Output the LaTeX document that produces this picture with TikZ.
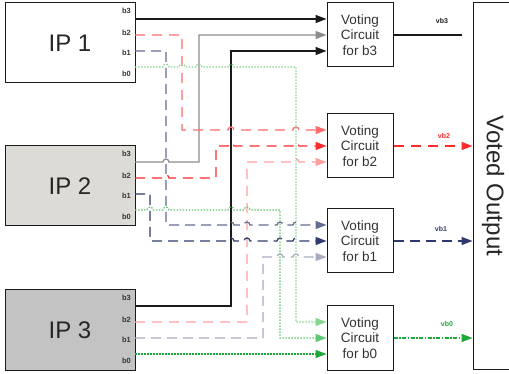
\documentclass[tikz,border=0pt]{standalone}
\usepackage{fontspec}
\setmainfont{Liberation Sans}
\usepackage{xcolor}
\usepackage{tikz}
\usetikzlibrary{arrows.meta, calc}
\definecolor{vcblack}{HTML}{1A1A1A}
\definecolor{vcgray}{HTML}{8C8C8C}
\definecolor{vcred}{HTML}{FF2A2A}
\definecolor{vcrose}{HTML}{FF6B6B}
\definecolor{vcpink}{HTML}{FF9E9E}
\definecolor{vcnavy}{HTML}{2E3A6E}
\definecolor{vcslate}{HTML}{646C90}
\definecolor{vclav}{HTML}{A8ABC0}
\definecolor{vcgreen}{HTML}{1FA83A}
\definecolor{vclime}{HTML}{60C870}
\definecolor{vcmint}{HTML}{86D690}
\definecolor{ipgrayA}{HTML}{DCDBD6}
\definecolor{ipgrayB}{HTML}{C4C3C3}
\tikzset{
  ipbox/.style  ={rectangle, draw=vcblack, line width=1pt, minimum width=130pt, minimum height=80pt,
                  inner sep=0pt, font=\fontsize{24}{28}\selectfont, text=black!85},
  vbox/.style   ={rectangle, draw=vcblack, line width=1pt, minimum width=66pt, minimum height=64pt,
                  inner sep=0pt, align=center, font=\fontsize{13.5}{15.7}\selectfont, text=black!80},
  pinlbl/.style ={anchor=east, inner sep=0pt, font=\fontsize{7.5}{8}\selectfont\bfseries, text=black!80},
  olbl/.style   ={inner sep=0pt, font=\fontsize{7}{8}\selectfont\bfseries},
  hop/.style    ={insert path={arc[start angle=180, end angle=0, radius=3pt]}},
  wire/.style   ={line width=1.2pt, -{Triangle[length=11pt,width=8pt]}},
  blk/.style    ={wire, draw=vcblack},
  gry/.style    ={wire, draw=vcgray},
  rdA/.style    ={wire, draw=vcrose, dash pattern=on 10pt off 7pt},
  rdB/.style    ={wire, draw=vcred, dash pattern=on 10pt off 7pt},
  rdC/.style    ={wire, draw=vcpink, dash pattern=on 10pt off 7pt},
  nvA/.style    ={wire, draw=vcslate, dash pattern=on 10pt off 6pt},
  nvB/.style    ={wire, draw=vcnavy, dash pattern=on 10pt off 6pt},
  nvC/.style    ={wire, draw=vclav, dash pattern=on 10pt off 6pt},
  gnA/.style    ={wire, draw=vcmint, dash pattern=on 1.5pt off 1.5pt},
  gnB/.style    ={wire, draw=vclime, dash pattern=on 1.5pt off 1.5pt},
  gnC/.style    ={wire, draw=vcgreen, dash pattern=on 1.5pt off 1.5pt},
}
\begin{document}
\begin{tikzpicture}[x=1pt, y=-1pt]
  \useasboundingbox (0,0) rectangle (509,374);
  % sources
  \node[ipbox]               (ip1) at (70,43)  {IP 1};
  \node[ipbox, fill=ipgrayA] (ip2) at (70,186) {IP 2};
  \node[ipbox, fill=ipgrayB] (ip3) at (70,330) {IP 3};
  \node[pinlbl] (l13) at (131,11)  {b3}; \node[pinlbl] (l12) at (131,32.5)  {b2};
  \node[pinlbl] (l11) at (131,53)  {b1}; \node[pinlbl] (l10) at (131,74)    {b0};
  \node[pinlbl] (l23) at (131,154) {b3}; \node[pinlbl] (l22) at (131,175.5) {b2};
  \node[pinlbl] (l21) at (131,196) {b1}; \node[pinlbl] (l20) at (131,217)   {b0};
  \node[pinlbl] (l33) at (131,298) {b3}; \node[pinlbl] (l32) at (131,319.5) {b2};
  \node[pinlbl] (l31) at (131,340) {b1}; \node[pinlbl] (l30) at (131,361)   {b0};
  \coordinate (ip1b3) at (135,19);  \coordinate (ip1b2) at (135,35);
  \coordinate (ip1b1) at (135,51);  \coordinate (ip1b0) at (135,67);
  \coordinate (ip2b3) at (135,162); \coordinate (ip2b2) at (135,178);
  \coordinate (ip2b1) at (135,194); \coordinate (ip2b0) at (135,210);
  \coordinate (ip3b3) at (135,306); \coordinate (ip3b2) at (135,322);
  \coordinate (ip3b1) at (135,338); \coordinate (ip3b0) at (135,354);
  % voters
  \node[vbox] (v3) at (360,35)  {Voting\\Circuit\\for b3};
  \node[vbox] (v2) at (360,146) {Voting\\Circuit\\for b2};
  \node[vbox] (v1) at (360,241) {Voting\\Circuit\\for b1};
  \node[vbox] (v0) at (360,338) {Voting\\Circuit\\for b0};
  \coordinate (v3a) at ($(v3.west)+(0,-16)$); \coordinate (v3b) at (v3.west); \coordinate (v3c) at ($(v3.west)+(0,16)$);
  \coordinate (v2a) at ($(v2.west)+(0,-16)$); \coordinate (v2b) at (v2.west); \coordinate (v2c) at ($(v2.west)+(0,16)$);
  \coordinate (v1a) at ($(v1.west)+(0,-16)$); \coordinate (v1b) at (v1.west); \coordinate (v1c) at ($(v1.west)+(0,16)$);
  \coordinate (v0a) at ($(v0.west)+(0,-16)$); \coordinate (v0b) at (v0.west); \coordinate (v0c) at ($(v0.west)+(0,16)$);
  \node[rectangle, draw=vcblack, line width=1pt, minimum width=40pt, minimum height=366pt] (vo) at (493,186) {};
  \node[rotate=-90, font=\fontsize{24}{28}\selectfont, text=black!85] (votxt) at (vo.center) {Voted Output};
  % bit 3
  \draw[blk] (ip1b3) -- (v3a);
  \draw[gry] (ip2b3) -- (163,162) [hop] -- (199,162) |- (v3b);
  \draw[blk] (ip3b3) -- (231,306) |- (v3c);
  % bit 2
  \draw[rdA] (ip1b2) -- (182,35) |- (228,130) [hop] -- (293,130) [hop] -- (v2a);
  \draw[rdB] (ip2b2) -- (163,178) [hop] -- (216,178) |- (228,146) [hop] -- (293,146) [hop] -- (v2b);
  \draw[rdC] (ip3b2) -- (247,322) |- (293,162) [hop] -- (v2c);
  % bit 1
  \draw[nvA] (ip1b1) -- (166,51) |- (228,225) [hop] -- (244,225) [hop] -- (277,225) [hop] -- (293,225) [hop] -- (v1a);
  \draw[nvB] (ip2b1) -- (150,194) |- (228,241) [hop] -- (244,241) [hop] -- (277,241) [hop] -- (293,241) [hop] -- (v1b);
  \draw[nvC] (ip3b1) -- (263,338) |- (277,257) [hop] -- (293,257) [hop] -- (v1c);
  % bit 0
  \draw[gnA] (ip1b0) -- (163,67) [hop] -- (179,67) [hop] -- (196,67) [hop] -- (228,67) [hop] -- (296,67) |- (v0a);
  \draw[gnB] (ip2b0) -- (147,210) [hop] -- (163,210) [hop] -- (228,210) [hop] -- (244,210) [hop] -- (280,210) |- (v0b);
  \draw[gnC] (ip3b0) -- (v0c);
  % voted bits
  \coordinate (o3) at (462,35);
  \draw[line width=1.2pt, draw=vcblack] (v3.east) -- (o3);
  \draw[rdB] (v2.east) -- (v2.east -| vo.west);
  \draw[nvB] (v1.east) -- (v1.east -| vo.west);
  \draw[wire, draw=vcgreen, dash pattern=on 4pt off 1.5pt on 1.5pt off 1.5pt] (v0.east) -- (v0.east -| vo.west);
  \node[olbl, text=vcblack] (vb3) at (442,21)  {vb3};
  \node[olbl, text=vcred]   (vb2) at (444,136) {vb2};
  \node[olbl, text=vcnavy]  (vb1) at (441,229) {vb1};
  \node[olbl, text=vcgreen] (vb0) at (447,324) {vb0};
\end{tikzpicture}
\end{document}
